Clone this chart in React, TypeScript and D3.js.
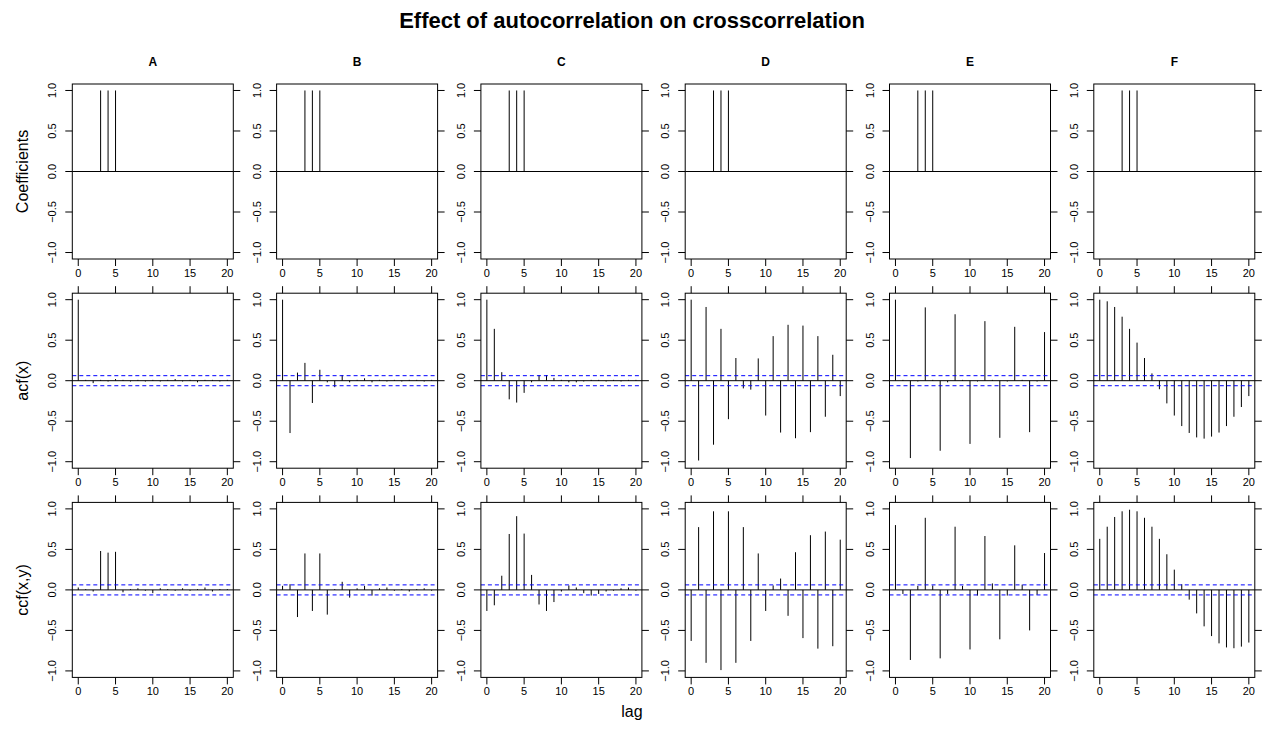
import React from "react";
import * as d3 from "d3";

// ---------- data ----------
const lags = d3.range(0, 21);
const columns = ["A", "B", "C", "D", "E", "F"];
const rowLabels = ["Coefficients", "acf(x)", "ccf(x,y)"];
const xTicks = [0, 5, 10, 15, 20];
const yTicks = [-1, -0.5, 0, 0.5, 1];
const yTickLabels = ["\u22121.0", "\u22120.5", "0.0", "0.5", "1.0"];
const ciBound = 0.062;

// filter coefficients (same in every column): 1 at lags 3,4,5
const coefficients = [0, 0, 0, 1, 1, 1, 0, 0, 0, 0, 0, 0, 0, 0, 0, 0, 0, 0, 0, 0, 0];

const acfA = [1, 0.01, -0.03, 0.01, -0.01, 0.02, 0.01, -0.01, 0.01, -0.01, 0.01, -0.01, 0.01, 0.02, -0.01, 0.01, -0.02, 0.01, 0.01, -0.01, 0.01];
const acfB = [1, -0.646, 0.1, 0.22, -0.275, 0.135, -0.02, -0.08, 0.07, -0.02, 0.01, 0.03, -0.02, 0.01, -0.01, 0.01, -0.01, 0.01, 0.01, -0.01, 0.01];
const acfC = [1, 0.64, 0.105, -0.23, -0.27, -0.15, -0.02, 0.07, 0.07, 0.035, 0.01, -0.02, -0.02, -0.01, 0.01, 0.01, -0.01, 0.01, -0.01, 0.01, 0.01];
const acfD = [1, -0.985, 0.91, -0.79, 0.64, -0.475, 0.28, -0.095, -0.11, 0.275, -0.43, 0.55, -0.64, 0.69, -0.71, 0.68, -0.635, 0.55, -0.445, 0.32, -0.19];
const acfE = [1, 0.01, -0.955, -0.01, 0.905, 0.01, -0.865, -0.02, 0.82, 0.01, -0.78, -0.01, 0.735, 0.01, -0.705, -0.01, 0.665, 0.01, -0.635, -0.01, 0.6];
const acfF = [1, 0.98, 0.91, 0.79, 0.64, 0.47, 0.28, 0.09, -0.105, -0.28, -0.43, -0.56, -0.645, -0.7, -0.715, -0.69, -0.64, -0.56, -0.445, -0.325, -0.19];

const ccfA = [0.03, 0.01, -0.02, 0.48, 0.46, 0.47, -0.03, 0.01, 0.02, -0.01, -0.04, 0.02, 0.01, -0.01, 0.02, -0.01, 0.01, 0.03, -0.02, 0.01, 0.01];
const ccfB = [0.05, 0.07, -0.335, 0.45, -0.26, 0.45, -0.305, 0.01, 0.1, -0.095, 0.02, 0.05, -0.07, 0.02, 0.03, -0.01, 0.01, -0.02, 0.01, 0.02, -0.01];
const ccfC = [-0.26, -0.19, 0.175, 0.69, 0.91, 0.695, 0.185, -0.18, -0.26, -0.15, -0.02, 0.055, 0.03, -0.04, -0.07, -0.05, -0.02, -0.01, 0.02, 0.03, -0.01];
const ccfD = [-0.63, 0.775, -0.9, 0.97, -0.99, 0.97, -0.9, 0.775, -0.63, 0.45, -0.26, 0.055, 0.14, -0.32, 0.465, -0.595, 0.675, -0.725, 0.72, -0.695, 0.62];
const ccfE = [0.8, -0.05, -0.865, 0.05, 0.89, 0.055, -0.845, -0.05, 0.78, 0.05, -0.735, -0.07, 0.665, 0.08, -0.61, -0.07, 0.55, 0.065, -0.5, -0.06, 0.455];
const ccfF = [0.63, 0.78, 0.9, 0.97, 0.99, 0.97, 0.89, 0.78, 0.63, 0.44, 0.25, 0.07, -0.12, -0.29, -0.45, -0.57, -0.66, -0.71, -0.72, -0.7, -0.65];

const acfSeries = [acfA, acfB, acfC, acfD, acfE, acfF];
const ccfSeries = [ccfA, ccfB, ccfC, ccfD, ccfE, ccfF];

// ---------- layout ----------
const W = 1264;
const H = 730;
const PX0 = 72.3;
const PDX = 204.3;
const PW = 161;
const PY0 = 84;
const PDY = 209.2;
const PH = 175;
const TICK = 7;
const FONT = "'Liberation Sans', Arial, Helvetica, sans-serif";

function Panel({ col, row, values }: { col: number; row: number; values: number[] }) {
  const left = PX0 + col * PDX;
  const top = PY0 + row * PDY;
  const x = d3.scaleLinear().domain([-0.8, 20.8]).range([left, left + PW]);
  const y = d3.scaleLinear().domain([-1.08, 1.08]).range([top + PH, top]);
  const bottom = top + PH;
  const right = left + PW;
  const showCI = row > 0;
  return (
    <g>
      {lags.map((l, i) => (
        <line key={"s" + i} x1={x(l)} x2={x(l)} y1={y(0)} y2={y(values[i])} stroke="#000" strokeWidth={1} />
      ))}
      <line x1={left} x2={right} y1={y(0)} y2={y(0)} stroke="#000" strokeWidth={1} />
      {showCI &&
        [ciBound, -ciBound].map((c, i) => (
          <line key={"c" + i} x1={left} x2={right} y1={y(c)} y2={y(c)} stroke="#0000ff" strokeWidth={1} strokeDasharray="4,3" />
        ))}
      <rect x={left} y={top} width={PW} height={PH} fill="none" stroke="#000" strokeWidth={1} />
      {xTicks.map((t) => (
        <g key={"xb" + t}>
          <line x1={x(t)} x2={x(t)} y1={bottom} y2={bottom + TICK} stroke="#000" />
          <text x={x(t)} y={bottom + 18} textAnchor="middle" fontSize={11} fontFamily={FONT}>
            {t}
          </text>
        </g>
      ))}
      {row > 0 &&
        xTicks.map((t) => (
          <line key={"xt" + t} x1={x(t)} x2={x(t)} y1={top} y2={top - TICK} stroke="#000" />
        ))}
      {yTicks.map((t, i) => (
        <g key={"yl" + t}>
          <line x1={left} x2={left - TICK} y1={y(t)} y2={y(t)} stroke="#000" />
          <line x1={right} x2={right + TICK} y1={y(t)} y2={y(t)} stroke="#000" />
          <text
            transform={`translate(${left - 16},${y(t)}) rotate(-90)`}
            textAnchor="middle"
            fontSize={11}
            fontFamily={FONT}
          >
            {yTickLabels[i]}
          </text>
        </g>
      ))}
      {row === 0 && (
        <text x={(left + right) / 2} y={66} textAnchor="middle" fontSize={12} fontWeight="bold" fontFamily={FONT}>
          {columns[col]}
        </text>
      )}
    </g>
  );
}

export default function App() {
  const rowsData = [columns.map(() => coefficients), acfSeries, ccfSeries];
  return (
    <svg
      width={W}
      height={H}
      viewBox={`0 0 ${W} ${H}`}
      style={{ position: "absolute", left: 0, top: 0, background: "#fff" }}
    >
      <rect x={0} y={0} width={W} height={H} fill="#fff" />
      <text x={W / 2} y={28} textAnchor="middle" fontSize={22} fontWeight="bold" fontFamily={FONT}>
        Effect of autocorrelation on crosscorrelation
      </text>
      {rowsData.map((rowSeries, r) =>
        rowSeries.map((vals, c) => <Panel key={r + "-" + c} col={c} row={r} values={vals} />)
      )}
      {rowLabels.map((lab, r) => (
        <text
          key={lab}
          transform={`translate(28,${PY0 + r * PDY + PH / 2}) rotate(-90)`}
          textAnchor="middle"
          fontSize={16}
          fontFamily={FONT}
        >
          {lab}
        </text>
      ))}
      <text x={W / 2} y={717} textAnchor="middle" fontSize={16} fontFamily={FONT}>
        lag
      </text>
    </svg>
  );
}
